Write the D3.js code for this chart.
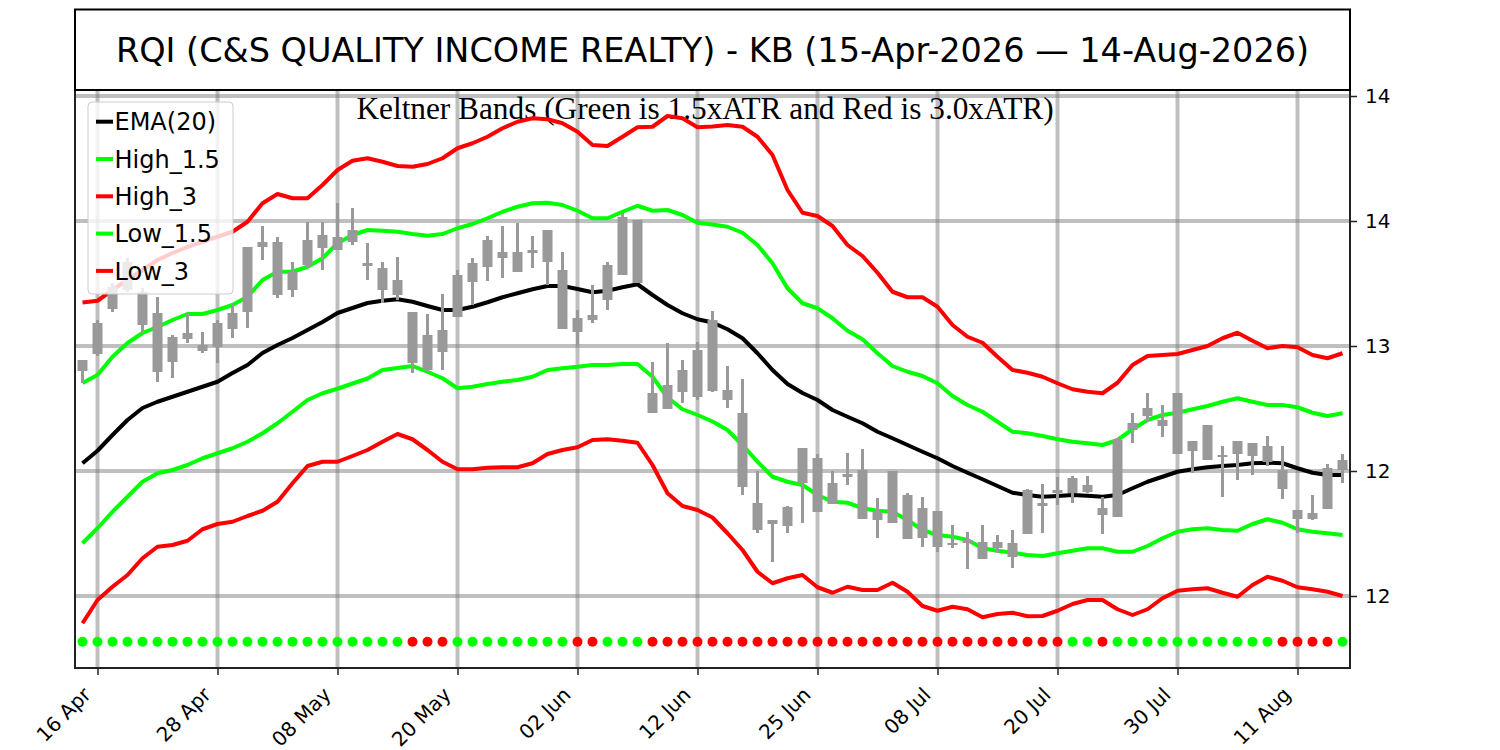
<html lang="en">
<head>
    <meta charset="UTF-8"/>
    <title>RQI Keltner Bands</title>
    <script src="https://d3js.org/d3.v7.min.js"></script>
    <style>
        body { margin: 0; background: white; }
        text { font-family: "DejaVu Sans", sans-serif; }
    </style>
</head>
<body>
    <script>

        // trading days (2026)
        var days = ["04-15","04-16","04-17","04-20","04-21","04-22","04-23","04-24","04-27","04-28","04-29","04-30",
            "05-01","05-04","05-05","05-06","05-07","05-08","05-11","05-12","05-13","05-14","05-15","05-18","05-19","05-20",
            "05-21","05-22","05-26","05-27","05-28","05-29",
            "06-01","06-02","06-03","06-04","06-05","06-08","06-09","06-10","06-11","06-12","06-15","06-16","06-17","06-18",
            "06-22","06-23","06-24","06-25","06-26","06-29","06-30",
            "07-01","07-02","07-06","07-07","07-08","07-09","07-10","07-13","07-14","07-15","07-16","07-17","07-20","07-21",
            "07-22","07-23","07-24","07-27","07-28","07-29","07-30","07-31",
            "08-03","08-04","08-05","08-06","08-07","08-10","08-11","08-12","08-13","08-14"];

        var tickLabels = ["16 Apr","28 Apr","08 May","20 May","02 Jun","12 Jun","25 Jun","08 Jul","20 Jul","30 Jul","11 Aug"];
        var yTickVals = [14.0, 13.5, 13.0, 12.5, 12.0];
        var yTickLabels = ["14","14","13","12","12"];

        var highs = [12.944,13.104,13.252,13.352,13.232,13.196,13.044,13.132,13.056,13.104,
            13.172,13.396,13.480,13.436,13.336,13.496,13.496,13.572,13.552,13.412,
            13.336,13.356,13.136,13.128,13.208,13.304,13.352,13.440,13.480,13.492,
            13.440,13.464,13.376,13.144,13.244,13.336,13.532,13.504,12.936,13.012,
            12.944,13.016,13.140,12.920,12.868,12.500,12.304,12.360,12.592,12.568,
            12.500,12.572,12.588,12.392,12.500,12.412,12.396,12.340,12.284,12.256,
            12.284,12.244,12.264,12.428,12.448,12.476,12.480,12.480,12.396,12.632,
            12.732,12.812,12.764,12.812,12.620,12.684,12.600,12.620,12.612,12.640,
            12.600,12.344,12.404,12.528,12.568];
        var opens = [12.944,13.092,13.236,13.336,13.216,13.132,13.036,13.052,13.004,13.092,
            13.132,13.396,13.416,13.416,13.296,13.424,13.444,13.436,13.464,13.332,
            13.312,13.264,13.136,13.044,13.064,13.284,13.332,13.424,13.376,13.376,
            13.384,13.464,13.304,13.112,13.124,13.324,13.516,13.504,12.812,12.844,
            12.904,12.984,13.104,12.824,12.732,12.372,12.304,12.356,12.592,12.552,
            12.452,12.488,12.504,12.336,12.500,12.404,12.352,12.340,12.212,12.224,
            12.216,12.216,12.212,12.424,12.372,12.424,12.472,12.444,12.352,12.624,
            12.692,12.752,12.704,12.812,12.620,12.684,12.564,12.620,12.612,12.600,
            12.504,12.344,12.332,12.512,12.544];
        var closes = [12.900,12.968,13.148,13.224,13.084,12.896,12.936,13.028,12.980,12.996,
            13.068,13.136,13.396,13.204,13.224,13.324,13.392,13.384,13.416,13.320,
            13.224,13.204,12.932,12.904,12.976,13.116,13.256,13.316,13.352,13.296,
            13.372,13.336,13.068,13.056,13.104,13.184,13.284,13.252,12.732,12.748,
            12.816,12.796,12.820,12.784,12.436,12.264,12.288,12.280,12.452,12.336,
            12.368,12.476,12.308,12.304,12.292,12.228,12.232,12.196,12.204,12.212,
            12.148,12.192,12.156,12.248,12.360,12.412,12.412,12.416,12.324,12.316,
            12.664,12.720,12.680,12.568,12.580,12.544,12.556,12.568,12.560,12.536,
            12.428,12.308,12.308,12.348,12.504];
        var lows = [12.852,12.960,13.136,13.216,13.052,12.856,12.872,13.012,12.972,12.932,
            13.032,13.072,13.344,13.192,13.196,13.312,13.304,13.384,13.404,13.264,
            13.172,13.184,12.892,12.896,12.904,13.116,13.164,13.260,13.272,13.296,
            13.312,13.244,13.068,13.004,13.092,13.144,13.284,13.252,12.732,12.748,
            12.772,12.784,12.816,12.752,12.404,12.252,12.136,12.252,12.292,12.336,
            12.368,12.444,12.308,12.232,12.292,12.228,12.196,12.176,12.192,12.108,
            12.148,12.172,12.112,12.248,12.252,12.364,12.372,12.412,12.248,12.316,
            12.612,12.700,12.636,12.568,12.492,12.544,12.396,12.464,12.484,12.520,
            12.388,12.252,12.304,12.348,12.452];

        var ema = [12.531,12.581,12.644,12.704,12.752,12.777,12.797,12.817,12.837,12.857,
            12.892,12.924,12.972,13.004,13.032,13.064,13.096,13.132,13.152,13.172,
            13.181,13.187,13.177,13.160,13.144,13.144,13.157,13.175,13.195,13.211,
            13.227,13.240,13.240,13.228,13.215,13.221,13.235,13.247,13.204,13.164,
            13.131,13.107,13.094,13.067,13.031,12.971,12.904,12.848,12.812,12.784,
            12.744,12.717,12.691,12.657,12.631,12.604,12.577,12.551,12.520,12.493,
            12.467,12.440,12.413,12.404,12.397,12.400,12.404,12.401,12.397,12.404,
            12.431,12.457,12.477,12.497,12.507,12.515,12.520,12.524,12.531,12.533,
            12.531,12.511,12.493,12.484,12.484];
        var high15 = [12.852,12.884,12.957,13.012,13.052,13.076,13.104,13.128,13.128,13.144,
            13.164,13.197,13.264,13.297,13.297,13.317,13.351,13.411,13.444,13.464,
            13.461,13.457,13.448,13.441,13.448,13.471,13.488,13.511,13.537,13.557,
            13.571,13.573,13.564,13.541,13.511,13.511,13.537,13.561,13.541,13.544,
            13.524,13.493,13.486,13.477,13.453,13.404,13.331,13.231,13.171,13.151,
            13.111,13.061,13.027,12.971,12.920,12.897,12.880,12.851,12.800,12.764,
            12.737,12.697,12.657,12.651,12.640,12.627,12.617,12.611,12.604,12.624,
            12.667,12.704,12.724,12.733,12.747,12.760,12.777,12.791,12.777,12.764,
            12.764,12.755,12.733,12.720,12.731];
        var high3 = [13.174,13.181,13.224,13.264,13.304,13.344,13.372,13.396,13.417,13.437,
            13.457,13.497,13.571,13.608,13.591,13.591,13.644,13.704,13.741,13.751,
            13.737,13.720,13.717,13.728,13.751,13.791,13.811,13.837,13.871,13.897,
            13.911,13.907,13.891,13.857,13.804,13.800,13.837,13.875,13.877,13.920,
            13.911,13.875,13.878,13.884,13.877,13.837,13.764,13.624,13.533,13.520,
            13.480,13.404,13.360,13.293,13.217,13.195,13.195,13.157,13.084,13.037,
            13.013,12.957,12.904,12.893,12.877,12.851,12.827,12.817,12.811,12.853,
            12.924,12.960,12.964,12.968,12.984,13.000,13.031,13.053,13.021,12.991,
            13.000,12.995,12.964,12.951,12.971];
        var low15 = [12.211,12.271,12.337,12.397,12.457,12.491,12.504,12.524,12.551,12.571,
            12.591,12.617,12.651,12.691,12.737,12.784,12.811,12.829,12.850,12.870,
            12.904,12.912,12.920,12.897,12.871,12.831,12.837,12.848,12.857,12.864,
            12.877,12.904,12.911,12.917,12.924,12.924,12.928,12.928,12.877,12.794,
            12.747,12.724,12.698,12.664,12.604,12.537,12.477,12.457,12.444,12.404,
            12.377,12.373,12.351,12.341,12.337,12.304,12.264,12.244,12.237,12.224,
            12.191,12.181,12.173,12.164,12.160,12.171,12.181,12.191,12.191,12.177,
            12.177,12.200,12.231,12.257,12.267,12.271,12.264,12.261,12.288,12.307,
            12.293,12.267,12.257,12.251,12.244];
        var low3 = [11.891,11.984,12.037,12.084,12.151,12.197,12.204,12.221,12.267,12.288,
            12.297,12.320,12.341,12.377,12.451,12.520,12.537,12.537,12.560,12.584,
            12.617,12.648,12.627,12.584,12.537,12.507,12.507,12.513,12.515,12.515,
            12.531,12.568,12.584,12.595,12.624,12.627,12.621,12.613,12.524,12.411,
            12.360,12.344,12.314,12.251,12.184,12.097,12.051,12.071,12.084,12.035,
            12.013,12.037,12.024,12.024,12.053,12.017,11.960,11.941,11.957,11.947,
            11.915,11.928,11.933,11.919,11.920,11.941,11.968,11.984,11.984,11.947,
            11.924,11.947,11.991,12.021,12.027,12.031,12.013,11.997,12.044,12.077,
            12.061,12.035,12.027,12.017,12.000];

        // g = green dot, r = red dot (one per day)
        var signal = "gggggggggg gggggggggg ggrrrggggg gggrrgggrr rrrrrrrrrr rrrrrrrrrr rrrrrrggrg gggggggggg rrrrg"
            .replace(/ /g, "").split("");
        var signalLevel = 11.817;

        var series = [
            {name: "EMA(20)", values: ema, color: "black"},
            {name: "High_1.5", values: high15, color: "#00ff00"},
            {name: "High_3", values: high3, color: "#ff0000"},
            {name: "Low_1.5", values: low15, color: "#00ff00"},
            {name: "Low_3", values: low3, color: "#ff0000"}
        ];

        var w = 1500;
        var h = 750;
        var padL = 75, padR = 1350, padT = 90, padB = 668;

        var parseDay = d3.timeParse("%Y-%m-%d");
        var fmtDay = d3.timeFormat("%d %b");
        var dates = days.map(function(d){ return parseDay("2026-" + d); });
        var tickIdx = tickLabels.map(function(l){
            return dates.findIndex(function(d){ return fmtDay(d) == l; });
        });

        var xScale = d3.scaleLinear()
                        .domain([-0.5, days.length - 0.5])
                        .range([padL, padR]);

        var yScale = d3.scaleLinear()
                        .domain([11.712, 14.024])
                        .range([padB, padT]);

        var svg = d3.select("body")
                    .append("svg")
                    .attr("width", w)
                    .attr("height", h);

        // grid
        svg.selectAll(".vgrid")
            .data(tickIdx)
            .enter()
            .append("line")
            .attr("x1", function(d){ return xScale(d); })
            .attr("x2", function(d){ return xScale(d); })
            .attr("y1", padT)
            .attr("y2", padB)
            .attr("stroke", "#808080")
            .attr("stroke-opacity", 0.5)
            .attr("stroke-width", 4);

        svg.selectAll(".hgrid")
            .data(yTickVals)
            .enter()
            .append("line")
            .attr("x1", padL)
            .attr("x2", padR)
            .attr("y1", function(d){ return yScale(d); })
            .attr("y2", function(d){ return yScale(d); })
            .attr("stroke", "#808080")
            .attr("stroke-opacity", 0.5)
            .attr("stroke-width", 4);

        // subtitle
        svg.append("text")
            .attr("x", 705)
            .attr("y", 119)
            .attr("text-anchor", "middle")
            .style("font-family", "'Liberation Serif', 'Times New Roman', serif")
            .style("font-size", "31.3px")
            .text("Keltner Bands (Green is 1.5xATR and Red is 3.0xATR)");

        // band lines
        var line = d3.line()
            .x(function(d, i){ return xScale(i); })
            .y(function(d){ return yScale(d); });

        svg.selectAll(".band")
            .data(series)
            .enter()
            .append("path")
            .attr("d", function(s){ return line(s.values); })
            .attr("fill", "none")
            .attr("stroke", function(s){ return s.color; })
            .attr("stroke-width", 4)
            .attr("stroke-linejoin", "round");

        // candles
        var candles = svg.selectAll(".candle")
            .data(days)
            .enter()
            .append("g");

        candles.append("rect")
            .attr("x", function(d, i){ return xScale(i) - 1.5; })
            .attr("y", function(d, i){ return yScale(highs[i]); })
            .attr("width", 3)
            .attr("height", function(d, i){ return yScale(lows[i]) - yScale(highs[i]); })
            .attr("fill", "#999999");

        candles.append("rect")
            .attr("x", function(d, i){ return xScale(i) - 5; })
            .attr("y", function(d, i){ return yScale(Math.max(opens[i], closes[i])); })
            .attr("width", 10)
            .attr("height", function(d, i){
                return Math.max(2, Math.abs(yScale(opens[i]) - yScale(closes[i])));
            })
            .attr("fill", "#999999");

        // signal dots
        svg.selectAll(".dot")
            .data(signal)
            .enter()
            .append("circle")
            .attr("cx", function(d, i){ return xScale(i); })
            .attr("cy", yScale(signalLevel))
            .attr("r", 5)
            .attr("fill", function(d){ return d == "g" ? "#00ff00" : "#ff0000"; });

        // axes
        var xAxis = d3.axisBottom(xScale)
            .tickValues(tickIdx)
            .tickFormat(function(d, i){ return tickLabels[i]; })
            .tickSize(7);

        var gx = svg.append("g")
            .attr("transform", "translate(0," + padB + ")")
            .call(xAxis);
        gx.select(".domain").remove();
        gx.selectAll("line").attr("stroke", "#222").attr("stroke-width", 1.5);
        gx.selectAll("text")
            .style("font-family", "'DejaVu Sans'")
            .style("font-size", "20px")
            .attr("fill", "black")
            .attr("text-anchor", "end")
            .attr("x", 0)
            .attr("y", 0)
            .attr("dy", 0)
            .attr("transform", "translate(-6,28) rotate(-45)");

        var yAxis = d3.axisRight(yScale)
            .tickValues(yTickVals)
            .tickFormat(function(d, i){ return yTickLabels[i]; })
            .tickSize(7)
            .tickPadding(8);

        var gy = svg.append("g")
            .attr("transform", "translate(" + padR + ",0)")
            .call(yAxis);
        gy.select(".domain").remove();
        gy.selectAll("line").attr("stroke", "#222").attr("stroke-width", 1.5);
        gy.selectAll("text")
            .style("font-family", "'DejaVu Sans'")
            .style("font-size", "20px")
            .attr("fill", "black");

        // frame
        svg.append("rect")
            .attr("x", padL)
            .attr("y", padT)
            .attr("width", padR - padL)
            .attr("height", padB - padT)
            .attr("fill", "none")
            .attr("stroke", "#222")
            .attr("stroke-width", 2);

        // legend
        var legend = svg.append("g");
        legend.append("rect")
            .attr("x", 88)
            .attr("y", 102)
            .attr("width", 145)
            .attr("height", 192)
            .attr("rx", 4)
            .attr("fill", "white")
            .attr("fill-opacity", 0.8)
            .attr("stroke", "#cccccc");

        var items = legend.selectAll(".item")
            .data(series)
            .enter()
            .append("g")
            .attr("transform", function(d, i){ return "translate(0," + (121.7 + i * 37.3) + ")"; });

        items.append("line")
            .attr("x1", 96)
            .attr("x2", 113)
            .attr("stroke", function(d){ return d.color; })
            .attr("stroke-width", 4);

        items.append("text")
            .attr("x", 114.5)
            .attr("y", 8.7)
            .style("font-size", "24px")
            .text(function(d){ return d.name; });

        // title box
        svg.append("rect")
            .attr("x", padL)
            .attr("y", 9.5)
            .attr("width", padR - padL)
            .attr("height", padT - 9.5)
            .attr("fill", "white")
            .attr("stroke", "black")
            .attr("stroke-width", 2);

        svg.append("text")
            .attr("x", (padL + padR) / 2)
            .attr("y", 62)
            .attr("text-anchor", "middle")
            .style("font-size", "33.5px")
            .text("RQI (C&S QUALITY INCOME REALTY) - KB (15-Apr-2026 \u2014 14-Aug-2026)");

    </script>
</body>
</html>
